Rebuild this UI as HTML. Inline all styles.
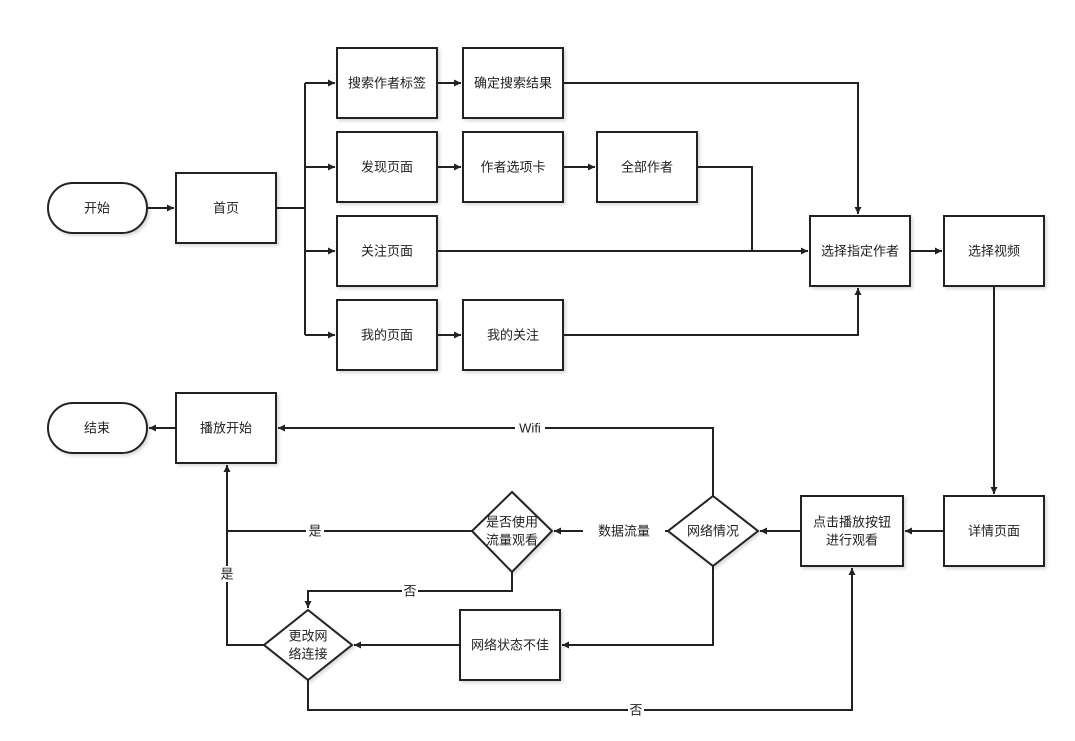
<!DOCTYPE html>
<html><head><meta charset="utf-8"><style>
body{margin:0;background:#fff;}
svg{display:block;font-family:"Liberation Sans","Noto Sans CJK SC",sans-serif;}
</style></head><body>
<svg width="1075" height="741" viewBox="0 0 1075 741" xmlns="http://www.w3.org/2000/svg">
<defs>
<marker id="a" viewBox="0 0 10 10" refX="10" refY="5" markerWidth="7" markerHeight="7" orient="auto" markerUnits="userSpaceOnUse">
<path d="M0,0 L10,5 L0,10 z" fill="#222"/></marker>
<filter id="s"><feDropShadow dx="2" dy="2" stdDeviation="1.5" flood-color="#000" flood-opacity="0.15"/></filter>
</defs>
<g fill="#fff" stroke="#222" stroke-width="2" filter="url(#s)">
<rect x="48" y="183" width="99" height="50" rx="25"/>
<rect x="176" y="173" width="100" height="70"/>
<rect x="337" y="48" width="100" height="70"/>
<rect x="337" y="132" width="100" height="70"/>
<rect x="337" y="216" width="100" height="70"/>
<rect x="337" y="300" width="100" height="70"/>
<rect x="463" y="48" width="100" height="70"/>
<rect x="463" y="132" width="100" height="70"/>
<rect x="463" y="300" width="100" height="70"/>
<rect x="597" y="132" width="100" height="70"/>
<rect x="810" y="216" width="100" height="70"/>
<rect x="944" y="216" width="100" height="70"/>
<rect x="944" y="496" width="100" height="70"/>
<rect x="801" y="496" width="102" height="70"/>
<rect x="460" y="610" width="100" height="70"/>
<rect x="176" y="393" width="100" height="70"/>
<rect x="48" y="403" width="99" height="50" rx="25"/>
<polygon points="713,496 758,531 713,566 668,531"/>
<polygon points="512,492 552,531 512,572 472,531"/>
<polygon points="308,610 352,645 308,680 264,645"/>
</g>
<g fill="none" stroke="#222" stroke-width="2">
<path d="M147,208 H174" marker-end="url(#a)"/>
<path d="M276,208 H305 M305,83 V335"/>
<path d="M305,83 H335" marker-end="url(#a)"/>
<path d="M305,167 H335" marker-end="url(#a)"/>
<path d="M305,251 H335" marker-end="url(#a)"/>
<path d="M305,335 H335" marker-end="url(#a)"/>
<path d="M437,83 H461" marker-end="url(#a)"/>
<path d="M437,167 H461" marker-end="url(#a)"/>
<path d="M437,335 H461" marker-end="url(#a)"/>
<path d="M563,167 H595" marker-end="url(#a)"/>
<path d="M563,83 H858 V214" marker-end="url(#a)"/>
<path d="M697,167 H752 V251"/>
<path d="M437,251 H808" marker-end="url(#a)"/>
<path d="M563,335 H858 V288" marker-end="url(#a)"/>
<path d="M910,251 H942" marker-end="url(#a)"/>
<path d="M994,286 V494" marker-end="url(#a)"/>
<path d="M944,531 H905" marker-end="url(#a)"/>
<path d="M801,531 H760" marker-end="url(#a)"/>
<path d="M713,496 V428 H278" marker-end="url(#a)"/>
<path d="M668,531 H554" marker-end="url(#a)"/>
<path d="M472,531 H227"/>
<path d="M264,645 H227 V465" marker-end="url(#a)"/>
<path d="M512,572 V591 H308 V608" marker-end="url(#a)"/>
<path d="M713,566 V645 H562" marker-end="url(#a)"/>
<path d="M460,645 H354" marker-end="url(#a)"/>
<path d="M308,680 V710 H852 V568" marker-end="url(#a)"/>
<path d="M176,428 H149" marker-end="url(#a)"/>
</g>
<g fill="#fff">
<rect x="515" y="420" width="30" height="16"/>
<rect x="583" y="523" width="82" height="16"/>
<rect x="306" y="523" width="18" height="16"/>
<rect x="219" y="566" width="16" height="16"/>
<rect x="402" y="583" width="16" height="16"/>
<rect x="628" y="702" width="16" height="16"/>
</g>
<g font-size="13" fill="#222" text-anchor="middle" dominant-baseline="central">
<text x="97" y="208">开始</text>
<text x="226" y="208">首页</text>
<text x="387" y="83">搜索作者标签</text>
<text x="387" y="167">发现页面</text>
<text x="387" y="251">关注页面</text>
<text x="387" y="335">我的页面</text>
<text x="513" y="83">确定搜索结果</text>
<text x="513" y="167">作者选项卡</text>
<text x="513" y="335">我的关注</text>
<text x="647" y="167">全部作者</text>
<text x="860" y="251">选择指定作者</text>
<text x="994" y="251">选择视频</text>
<text x="994" y="531">详情页面</text>
<text x="852" y="522">点击播放按钮</text>
<text x="852" y="540">进行观看</text>
<text x="713" y="531">网络情况</text>
<text x="512" y="522">是否使用</text>
<text x="512" y="540">流量观看</text>
<text x="308" y="636">更改网</text>
<text x="308" y="654">络连接</text>
<text x="510" y="645">网络状态不佳</text>
<text x="226" y="428">播放开始</text>
<text x="97" y="428">结束</text>
<text x="530" y="428">Wifi</text>
<text x="624" y="531">数据流量</text>
<text x="315" y="531">是</text>
<text x="227" y="574">是</text>
<text x="410" y="591">否</text>
<text x="636" y="710">否</text>
</g>
</svg>
</body></html>
